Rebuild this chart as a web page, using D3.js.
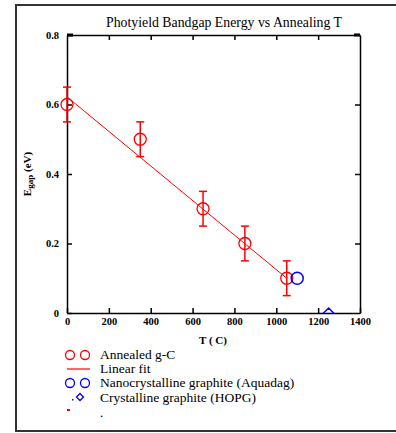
<!DOCTYPE html>
<html>
<head>
<meta charset="utf-8">
<script src="https://cdn.jsdelivr.net/npm/d3@7"></script>
<style>
  body { margin: 0; background: #fff; }
  svg { display: block; }
</style>
</head>
<body>
<div id="chart"></div>
<script>
// data
var annealT = [0, 350, 650, 850, 1050];
var annealE = [0.6, 0.5, 0.3, 0.2, 0.1];
var annealErr = [0.05, 0.05, 0.05, 0.05, 0.05];
var fitT = [0, 1050];
var fitE = [0.622, 0.1];
var aquadagT = [1100];
var aquadagE = [0.1];
var hopgT = [1250];
var hopgE = [0];
var xTicks = [0, 200, 400, 600, 800, 1000, 1200, 1400];
var yTicks = [0, 0.2, 0.4, 0.6, 0.8];
var legendLabels = ["Annealed g-C", "Linear fit", "Nanocrystalline graphite (Aquadag)", "Crystalline graphite (HOPG)", "."];

var svgWidth = 396;
var svgHeight = 433;
var margin = { top: 35, right: 36, bottom: 120, left: 67 };
var width = svgWidth - margin.left - margin.right;
var height = svgHeight - margin.top - margin.bottom;

var svg = d3.select("#chart")
  .append("svg")
  .attr("width", svgWidth)
  .attr("height", svgHeight);

// outer frame
svg.append("path")
  .attr("d", "M400,5 H16 V431 H400")
  .attr("fill", "none")
  .attr("stroke", "#333")
  .attr("stroke-width", 2);

var chartGroup = svg.append("g")
  .attr("transform", `translate(${margin.left}, ${margin.top})`);

svg.append("defs").append("clipPath")
  .attr("id", "plotClip")
  .append("rect")
  .attr("width", width)
  .attr("height", height);

var x = d3.scaleLinear().domain([0, 1400]).range([0, width]);
var y = d3.scaleLinear().domain([0, 0.8]).range([height, 0]);

// axes with inward ticks
var xAxisG = chartGroup.append("g")
  .attr("transform", `translate(0, ${height})`)
  .call(d3.axisBottom(x).tickValues(xTicks).tickFormat(d3.format("d")).tickSizeInner(-5).tickSizeOuter(0).tickPadding(5));

var yAxisG = chartGroup.append("g")
  .call(d3.axisLeft(y).tickValues(yTicks).tickFormat(d => d === 0 ? "0" : d3.format(".1f")(d)).tickSizeInner(-5).tickSizeOuter(0).tickPadding(8));

[xAxisG, yAxisG].forEach(function(g) {
  g.attr("font-family", "Liberation Serif, serif")
    .attr("font-weight", "bold")
    .attr("font-size", 10.5);
});

chartGroup.append("g")
  .call(d3.axisTop(x).tickValues(xTicks.slice(1, -1)).tickFormat("").tickSizeInner(-5).tickSizeOuter(0));

chartGroup.append("g")
  .attr("transform", `translate(${width}, 0)`)
  .call(d3.axisRight(y).tickValues(yTicks.slice(1, -1)).tickFormat("").tickSizeInner(-5).tickSizeOuter(0));

chartGroup.selectAll(".domain, .tick line")
  .attr("stroke", "#000")
  .attr("stroke-width", 1.5);

// thick corner marks
chartGroup.append("line")
  .attr("x1", 0).attr("x2", 6).attr("y1", y(0.8)).attr("y2", y(0.8))
  .attr("stroke", "#000").attr("stroke-width", 3);
chartGroup.append("line")
  .attr("x1", width - 6).attr("x2", width).attr("y1", y(0.8)).attr("y2", y(0.8))
  .attr("stroke", "#000").attr("stroke-width", 3);

var plot = chartGroup.append("g").attr("clip-path", "url(#plotClip)");

// linear fit
var fitLine = d3.line().x(d => x(d[0])).y(d => y(d[1]));
plot.append("path")
  .datum(d3.zip(fitT, fitE))
  .attr("d", fitLine)
  .attr("fill", "none")
  .attr("stroke", "#ff0000")
  .attr("stroke-width", 1);

// error bars
var anneal = annealT.map((t, i) => ({ t: t, e: annealE[i], err: annealErr[i] }));
var errGroup = chartGroup.selectAll(".err")
  .data(anneal)
  .enter()
  .append("g")
  .attr("stroke", "#ff0000")
  .attr("stroke-width", 1.5);
errGroup.append("line")
  .attr("x1", d => x(d.t)).attr("x2", d => x(d.t))
  .attr("y1", d => y(d.e - d.err)).attr("y2", d => y(d.e + d.err));
errGroup.append("line")
  .attr("x1", d => x(d.t) - 4).attr("x2", d => x(d.t) + 4)
  .attr("y1", d => y(d.e - d.err)).attr("y2", d => y(d.e - d.err));
errGroup.append("line")
  .attr("x1", d => x(d.t) - 4).attr("x2", d => x(d.t) + 4)
  .attr("y1", d => y(d.e + d.err)).attr("y2", d => y(d.e + d.err));

chartGroup.selectAll(".anneal")
  .data(anneal)
  .enter()
  .append("circle")
  .attr("cx", d => x(d.t))
  .attr("cy", d => y(d.e))
  .attr("r", 6)
  .attr("fill", "none")
  .attr("stroke", "#ff0000")
  .attr("stroke-width", 1.3);

chartGroup.selectAll(".aquadag")
  .data(aquadagT)
  .enter()
  .append("circle")
  .attr("cx", d => x(d))
  .attr("cy", (d, i) => y(aquadagE[i]))
  .attr("r", 6)
  .attr("fill", "none")
  .attr("stroke", "#0000ff")
  .attr("stroke-width", 1.5);

plot.selectAll(".hopg")
  .data(hopgT)
  .enter()
  .append("path")
  .attr("transform", (d, i) => `translate(${x(d)}, ${y(hopgE[i])})`)
  .attr("d", "M0,-5 L5,0 L0,5 L-5,0 Z")
  .attr("fill", "none")
  .attr("stroke", "#0000ff")
  .attr("stroke-width", 1.5);

// title and axis labels
svg.append("text")
  .attr("x", 224)
  .attr("y", 27)
  .attr("text-anchor", "middle")
  .attr("textLength", 236)
  .attr("lengthAdjust", "spacingAndGlyphs")
  .style("font-family", "Liberation Serif, serif")
  .style("font-size", "14px")
  .text("Photyield Bandgap Energy vs Annealing T");

var yLabel = svg.append("text")
  .attr("transform", `translate(31, ${margin.top + height / 2}) rotate(-90)`)
  .attr("text-anchor", "middle")
  .style("font-family", "Liberation Serif, serif")
  .style("font-weight", "bold")
  .style("font-size", "11px");
yLabel.append("tspan").text("E");
yLabel.append("tspan").attr("dy", 2).style("font-size", "9px").text("gap");
yLabel.append("tspan").attr("dy", -2).text(" (eV)");

svg.append("text")
  .attr("x", 213)
  .attr("y", 344)
  .attr("text-anchor", "middle")
  .style("font-family", "Liberation Serif, serif")
  .style("font-weight", "bold")
  .style("font-size", "11px")
  .text("T ( C)");

// legend
var legendY = [355, 369, 383, 398, 413];
var legend = svg.append("g");
legend.selectAll("text")
  .data(legendLabels)
  .enter()
  .append("text")
  .attr("x", 100)
  .attr("y", (d, i) => legendY[i] + 4)
  .style("font-family", "Liberation Serif, serif")
  .style("font-size", "13.5px")
  .text(d => d);

[70, 85].forEach(function(cx) {
  legend.append("circle").attr("cx", cx).attr("cy", legendY[0]).attr("r", 4.5)
    .attr("fill", "none").attr("stroke", "#ff0000").attr("stroke-width", 1.3);
  legend.append("circle").attr("cx", cx).attr("cy", legendY[2]).attr("r", 4.5)
    .attr("fill", "none").attr("stroke", "#0000ff").attr("stroke-width", 1.3);
});
legend.append("line")
  .attr("x1", 67).attr("x2", 90).attr("y1", legendY[1]).attr("y2", legendY[1])
  .attr("stroke", "#ff0000").attr("stroke-width", 1.2);
legend.append("path")
  .attr("transform", `translate(80, ${legendY[3] - 1})`)
  .attr("d", "M0,-3.5 L3.5,0 L0,3.5 L-3.5,0 Z")
  .attr("fill", "none").attr("stroke", "#0000ff").attr("stroke-width", 1.3);
legend.append("rect")
  .attr("x", 72).attr("y", legendY[3] + 1).attr("width", 1.5).attr("height", 1.5)
  .attr("fill", "#0000ff");
legend.append("rect")
  .attr("x", 67).attr("y", legendY[4] - 4).attr("width", 3).attr("height", 2)
  .attr("fill", "#ff0000");
</script>
</body>
</html>
